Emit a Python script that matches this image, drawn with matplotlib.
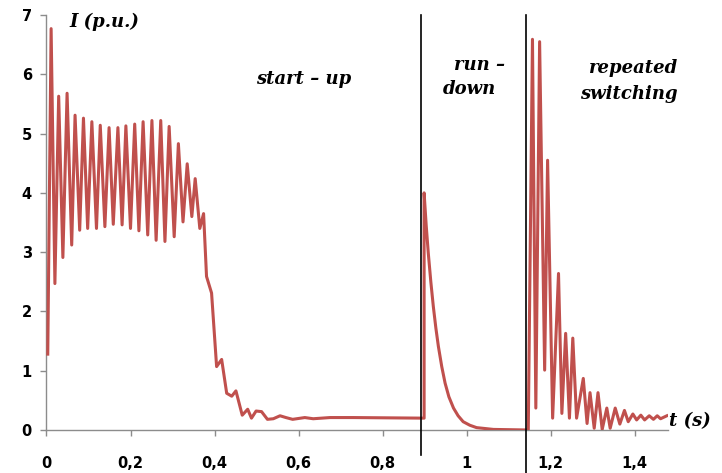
import matplotlib
matplotlib.use("Agg")
import matplotlib.pyplot as plt
import numpy as np

# motor current, p.u., against time in s
# start-up: direct on-line start, then steady running
t_start = [0.003, 0.011, 0.020, 0.029, 0.039, 0.049, 0.060, 0.068, 0.079, 0.088,
           0.098, 0.108, 0.119, 0.128, 0.139, 0.149, 0.159, 0.170, 0.180, 0.189,
           0.200, 0.210, 0.220, 0.230, 0.241, 0.251, 0.261, 0.272, 0.282, 0.292,
           0.304, 0.314, 0.325, 0.335, 0.346, 0.354, 0.365, 0.374, 0.381, 0.393,
           0.405, 0.417, 0.429, 0.441, 0.451, 0.466, 0.479, 0.488, 0.499, 0.512,
           0.526, 0.540, 0.556, 0.570, 0.586, 0.615, 0.635, 0.675, 0.730, 0.899]
i_start = [1.28, 6.77, 2.47, 5.63, 2.91, 5.68, 3.12, 5.31, 3.37, 5.26,
           3.40, 5.20, 3.40, 5.14, 3.43, 5.10, 3.47, 5.10, 3.46, 5.13,
           3.40, 5.16, 3.36, 5.20, 3.29, 5.22, 3.20, 5.22, 3.18, 5.12,
           3.26, 4.83, 3.51, 4.49, 3.60, 4.24, 3.40, 3.65, 2.59, 2.31,
           1.07, 1.19, 0.62, 0.57, 0.66, 0.25, 0.35, 0.20, 0.32, 0.31,
           0.18, 0.19, 0.24, 0.21, 0.18, 0.21, 0.19, 0.21, 0.21, 0.20]

# run-down after disconnection
t_run = [0.899, 0.904, 0.909, 0.915, 0.921, 0.927, 0.933, 0.941, 0.949, 0.958,
         0.969, 0.980, 0.992, 1.008, 1.024, 1.064, 1.147]
i_run = [4.00, 3.45, 2.98, 2.50, 2.08, 1.72, 1.41, 1.07, 0.79, 0.56,
         0.37, 0.24, 0.14, 0.08, 0.04, 0.01, 0.00]

# repeated switching
t_sw = [1.157, 1.165, 1.174, 1.186, 1.193, 1.205, 1.219, 1.227, 1.236, 1.245,
        1.253, 1.262, 1.278, 1.287, 1.294, 1.304, 1.313, 1.323, 1.334, 1.342,
        1.354, 1.365, 1.376, 1.385, 1.396, 1.405, 1.415, 1.424, 1.435, 1.445,
        1.454, 1.462, 1.477]
i_sw = [6.59, 0.37, 6.55, 1.01, 4.55, 0.20, 2.64, 0.28, 1.63, 0.20,
        1.55, 0.20, 0.87, 0.11, 0.63, 0.03, 0.63, 0.01, 0.37, 0.03,
        0.37, 0.10, 0.33, 0.14, 0.27, 0.17, 0.25, 0.17, 0.24, 0.18,
        0.24, 0.19, 0.24]

t_events = [0.891, 1.142]   # disconnection and reconnection

x_ticks = [0, 0.2, 0.4, 0.6, 0.8, 1.0, 1.2, 1.4]
x_labels = ["0", "0,2", "0,4", "0,6", "0,8", "1", "1,2", "1,4"]
y_ticks = [0, 1, 2, 3, 4, 5, 6, 7]

t = np.concatenate([t_start, t_run, t_sw])
cur = np.concatenate([i_start, i_run, i_sw])

fig = plt.figure(figsize=(7.22, 4.73), dpi=100)
ax = fig.add_axes([0.0644, 0.0909, 0.861, 0.8774])

ax.plot(t, cur, color="#C0504D", lw=2.2, solid_joinstyle="round", zorder=3)

for te, ybot in zip(t_events, [-0.42, -0.72]):
    ax.plot([te, te], [7.0, ybot], color="black", lw=1.2, clip_on=False, zorder=4)

ax.set_xlim(0, 1.48)
ax.set_ylim(0, 7)
for s in ["top", "right"]:
    ax.spines[s].set_visible(False)
for s in ["left", "bottom"]:
    ax.spines[s].set_color("#8c8c8c")
    ax.spines[s].set_linewidth(1.0)

ax.set_xticks(x_ticks)
ax.set_xticklabels(x_labels)
ax.set_yticks(y_ticks)
ax.tick_params(axis="both", colors="#8c8c8c", direction="out", length=4.5, width=1.0)
ax.tick_params(axis="x", pad=14)
ax.tick_params(axis="y", pad=6)
for lab in ax.get_xticklabels() + ax.get_yticklabels():
    lab.set_color("black")
    lab.set_fontfamily("DejaVu Sans")
    lab.set_fontweight("bold")
    lab.set_fontsize(10.5)

serif = dict(family="DejaVu Serif", style="italic", weight="bold",
             fontsize=13, color="black")
ax.text(0.055, 6.88, "I (p.u.)", ha="left", va="center", **serif)
ax.text(0.613, 5.92, "start \u2013 up", ha="center", va="center", **serif)
ax.text(1.030, 6.16, "run \u2013", ha="center", va="center", **serif)
ax.text(1.006, 5.76, "down", ha="center", va="center", **serif)
ax.text(1.503, 6.10, "repeated", ha="right", va="center", **serif)
ax.text(1.503, 5.66, "switching", ha="right", va="center", **serif)
ax.text(1.482, 0.15, "t (s)", ha="left", va="center", clip_on=False, **serif)

fig.savefig("out.png", dpi=100)
